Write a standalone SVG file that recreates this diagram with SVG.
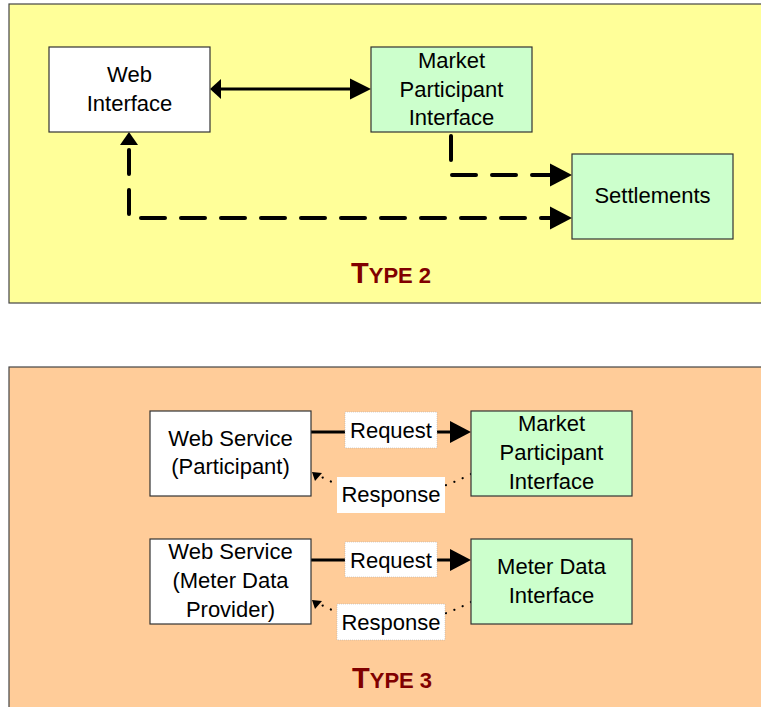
<svg xmlns="http://www.w3.org/2000/svg" width="761" height="707" viewBox="0 0 761 707">
<defs>
<style>
.panel{stroke:#444;stroke-width:1.2}
.box{stroke:#333;stroke-width:1.2}
.white{fill:#fff}
.green{fill:#ccffcc}
.t{font-family:"Liberation Sans",Arial,sans-serif;font-size:22px;fill:#000;text-anchor:middle}
.type{font-family:"Liberation Sans",Arial,sans-serif;font-weight:bold;fill:#800000}
.solid{stroke:#000;stroke-width:3;fill:none}
.dash{stroke:#000;stroke-width:4;fill:none;stroke-dasharray:24 16;stroke-linecap:round}
.dot{stroke:#000;stroke-width:2.2;fill:none;stroke-dasharray:0.1 9;stroke-linecap:round}
.lbl{fill:#fff;stroke:#aaa;stroke-width:0.5;stroke-dasharray:1 1}
</style>
</defs>
<rect width="761" height="707" fill="#fff"/>
<g id="panel-type2">
<rect class="panel" x="9" y="4" width="760" height="299" fill="#ffff99"/>
<text class="type" x="351" y="283"><tspan font-size="29">T</tspan><tspan font-size="22">YPE 2</tspan></text>
</g>
<g id="panel-type3">
<rect class="panel" x="9" y="367" width="760" height="350" fill="#ffcc99"/>
<text class="type" x="352" y="688"><tspan font-size="29">T</tspan><tspan font-size="22">YPE 3</tspan></text>
</g>
<g id="connectors">
<line class="solid" x1="219" y1="89" x2="352" y2="89"/>
<polygon points="210,89 221,79 221,99" fill="#000"/>
<polygon points="371,89 350,78.5 350,99.5" fill="#000"/>
<path class="dash" d="M451,136 V175 H550"/>
<polygon points="572,175 550,163.5 550,186.5" fill="#000"/>
<path class="dash" d="M129,150 V218 H550"/>
<polygon points="572,218 550,206.5 550,229.5" fill="#000"/>
<polygon points="129,132 120,145 138,145" fill="#000"/>
<line class="solid" x1="311" y1="432" x2="452" y2="432"/>
<polygon points="471,432 450,421 450,443" fill="#000"/>
<path class="dot" d="M471,474 Q391,516 316,474"/>
<polygon points="312,472 322,473 315,481" fill="#000"/>
<line class="solid" x1="311" y1="560" x2="452" y2="560"/>
<polygon points="471,560 450,549 450,571" fill="#000"/>
<path class="dot" d="M471,602 Q391,644 316,602"/>
<polygon points="312,600 322,601 315,609" fill="#000"/>
</g>
<g id="web-interface">
<rect class="box white" x="49" y="47" width="161" height="85"/>
<text class="t" x="129.5" y="82">Web</text>
<text class="t" x="129.5" y="111">Interface</text>
</g>
<g id="mpi-type2">
<rect class="box green" x="371" y="47" width="161" height="85"/>
<text class="t" x="451.5" y="68">Market</text>
<text class="t" x="451.5" y="97">Participant</text>
<text class="t" x="451.5" y="125">Interface</text>
</g>
<g id="settlements">
<rect class="box green" x="572" y="154" width="161" height="85"/>
<text class="t" x="652.5" y="203">Settlements</text>
</g>
<g id="ws-participant">
<rect class="box white" x="150" y="411" width="161" height="85"/>
<text class="t" x="230.5" y="446">Web Service</text>
<text class="t" x="230.5" y="474">(Participant)</text>
</g>
<g id="mpi-type3">
<rect class="box green" x="471" y="411" width="161" height="85"/>
<text class="t" x="551.5" y="431">Market</text>
<text class="t" x="551.5" y="460">Participant</text>
<text class="t" x="551.5" y="489">Interface</text>
</g>
<g id="ws-mdp">
<rect class="box white" x="150" y="539" width="161" height="85"/>
<text class="t" x="230.5" y="559">Web Service</text>
<text class="t" x="230.5" y="588">(Meter Data</text>
<text class="t" x="230.5" y="617">Provider)</text>
</g>
<g id="mdi">
<rect class="box green" x="471" y="539" width="161" height="85"/>
<text class="t" x="551.5" y="574">Meter Data</text>
<text class="t" x="551.5" y="603">Interface</text>
</g>
<g id="labels">
<rect class="lbl" x="345" y="412" width="92" height="36"/>
<text class="t" x="391" y="438">Request</text>
<rect x="337" y="477" width="108" height="36" fill="#fff"/>
<text class="t" x="391" y="502">Response</text>
<rect class="lbl" x="345" y="542" width="92" height="35"/>
<text class="t" x="391" y="568">Request</text>
<rect class="lbl" x="337" y="604" width="108" height="36"/>
<text class="t" x="391" y="630">Response</text>
</g>
</svg>
